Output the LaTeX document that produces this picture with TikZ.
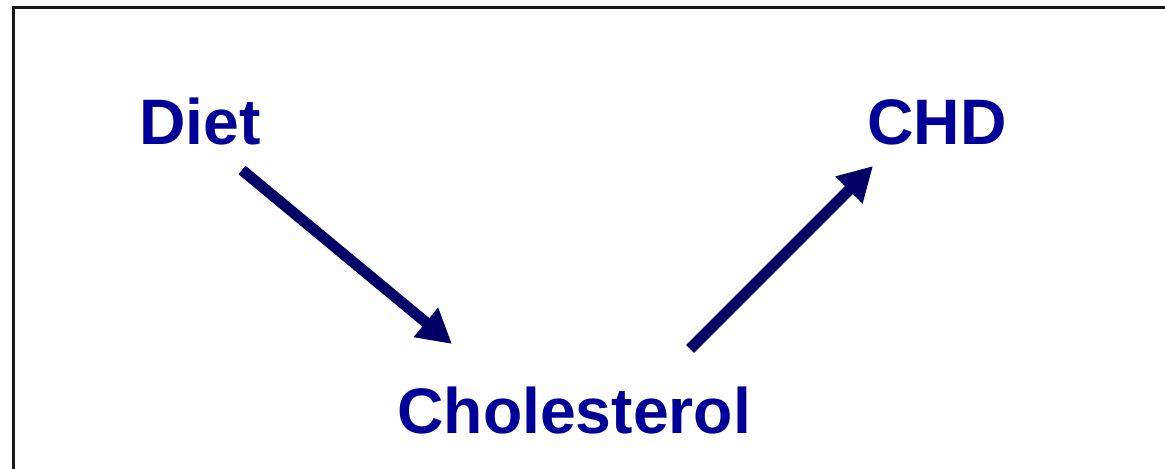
\documentclass[tikz,border=0pt]{standalone}
\usepackage{fontspec}
\setmainfont{Liberation Sans}
\usepackage{tikz}
\usetikzlibrary{positioning,arrows.meta}

\definecolor{labelblue}{RGB}{0,0,153}
\definecolor{arrownavy}{RGB}{0,0,102}

\begin{document}
\begin{tikzpicture}[
			x=0.02cm, y=-0.02cm,
			>={Triangle[length=0.68cm,width=0.72cm]},
			every node/.style={
				inner sep=0pt,
				anchor=base west,
				text=labelblue,
				font=\fontsize{36.6pt}{40pt}\selectfont\bfseries
			},
			link/.style={
				->,
				draw=arrownavy,
				fill=arrownavy,
				line width=0.22cm
			}
			]
			
			\useasboundingbox (0,0) rectangle (1165,469);
			\clip (0,0) rectangle (1165,469);
			
			%--------------------------------------------------
			% Frame
			%--------------------------------------------------
			
			\draw[line width=0.065cm,black!90] (13.5,7.5) rectangle (1220,520);
			
			%--------------------------------------------------
			% Labels
			%--------------------------------------------------
			
			\node (diet) at (139,145) {Diet};
			
			\node (chd) at (867,145) {CHD};
			
			\node (chol) at (397,433) {Cholesterol};
			
			%--------------------------------------------------
			% Flow
			%--------------------------------------------------
			
			\coordinate (dietout) at (242,170);
			\coordinate (cholin) at (452,344);
			\coordinate (cholout) at (690,349);
			\coordinate (chdin) at (873,166);
			
			\draw[link] (dietout) -- (cholin);
			
			\draw[link] (cholout) -- (chdin);
			
		\end{tikzpicture}
\end{document}
